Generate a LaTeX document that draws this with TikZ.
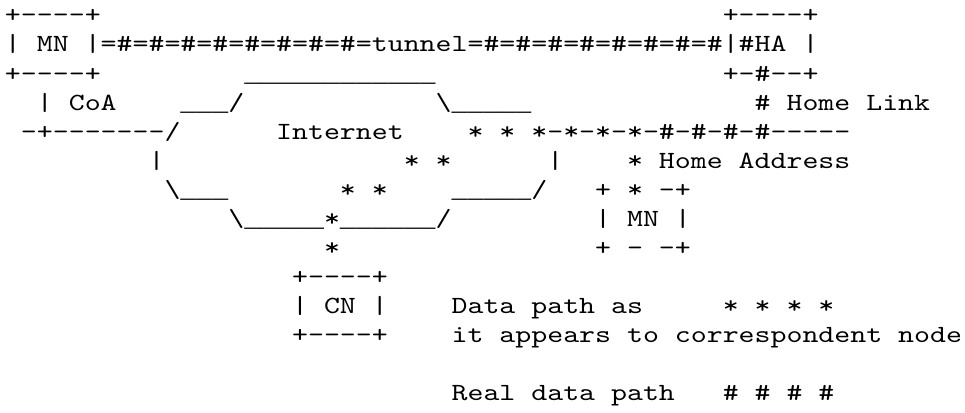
\documentclass[tikz,border=0pt]{standalone}
\usepackage{fontspec}
\newfontfamily\ascfont{lmmono10-regular.otf}[FakeStretch=1.23]
\newfontfamily\usfont{Liberation Mono}
\newcommand\bs{\textbackslash}
\newcommand\U[1]{{\usfont\fontsize{26.58}{29}\selectfont #1}}
\begin{document}
\begin{tikzpicture}[x=15.95pt,y=-29pt,
  asc/.style={inner sep=0pt,outer sep=0pt,anchor=base west,
    font={\ascfont\fontsize{24.7}{29}\selectfont}}]
\path[fill=white,use as bounding box] (-5pt,23pt) rectangle (960pt,-389pt);
% line 1
\node[asc] (mnTop) at (0,0) {+----+};
\node[asc] (haTop) at (45,0) {+----+};
% line 2
\node[asc] (tunnel) at (0,1) {|~MN~|=\#=\#=\#=\#=\#=\#=\#=\#=tunnel=\#=\#=\#=\#=\#=\#=\#=\#|\#HA~|};
% line 3
\node[asc] (mnBot) at (0,2) {+----+};
\node[asc] (cloudTop) at (15,2) {\U{\_\_\_\_\_\_\_\_\_\_\_\_}};
\node[asc] (haBot) at (45,2) {+-\#--+};
% line 4
\node[asc] (coa) at (2,3) {|~CoA};
\node[asc] (cloudNW) at (11,3) {\U{\_\_\_}/};
\node[asc] (cloudNE) at (27,3) {\bs\U{\_\_\_\_\_}};
\node[asc] (homelink) at (47,3) {\#~Home~Link};
% line 5
\node[asc] (foreign) at (1,4) {-+-------/};
\node[asc] (internet) at (17,4) {Internet};
\node[asc] (homeline) at (29,4) {*~*~*-*-*-*-\#-\#-\#-\#-----};
% line 6
\node[asc] (cloudW) at (9,5) {|};
\node[asc] (path1) at (25,5) {*~*};
\node[asc] (cloudE) at (34,5) {|};
\node[asc] (homeaddr) at (39,5) {*~Home~Address};
% line 7
\node[asc] (cloudSW) at (10,6) {\bs\U{\_\_\_}};
\node[asc] (path2) at (21,6) {*~*};
\node[asc] (cloudSE) at (28,6) {\U{\_\_\_\_\_}/};
\node[asc] (mn2Top) at (37,6) {+~*~-+};
% line 8
\node[asc] (cloudBot) at (14,7) {\bs\U{\_\_\_\_\_}*\U{\_\_\_\_\_\_}/};
\node[asc] (mn2) at (37,7) {|~MN~|};
% line 9
\node[asc] (path3) at (20,8) {*};
\node[asc] (mn2Bot) at (37,8) {+~-~-+};
% line 10-12
\node[asc] (cnTop) at (18,9) {+----+};
\node[asc] (cn) at (18,10) {|~CN~|};
\node[asc] (legend1) at (28,10) {Data~path~as};
\node[asc] (legendStars) at (45,10) {*~*~*~*};
\node[asc] (cnBot) at (18,11) {+----+};
\node[asc] (legend2) at (28,11) {it~appears~to~correspondent~node};
% line 14
\node[asc] (legend3) at (28,13) {Real~data~path};
\node[asc] (legendHash) at (45,13) {\#~\#~\#~\#};
\end{tikzpicture}
\end{document}
